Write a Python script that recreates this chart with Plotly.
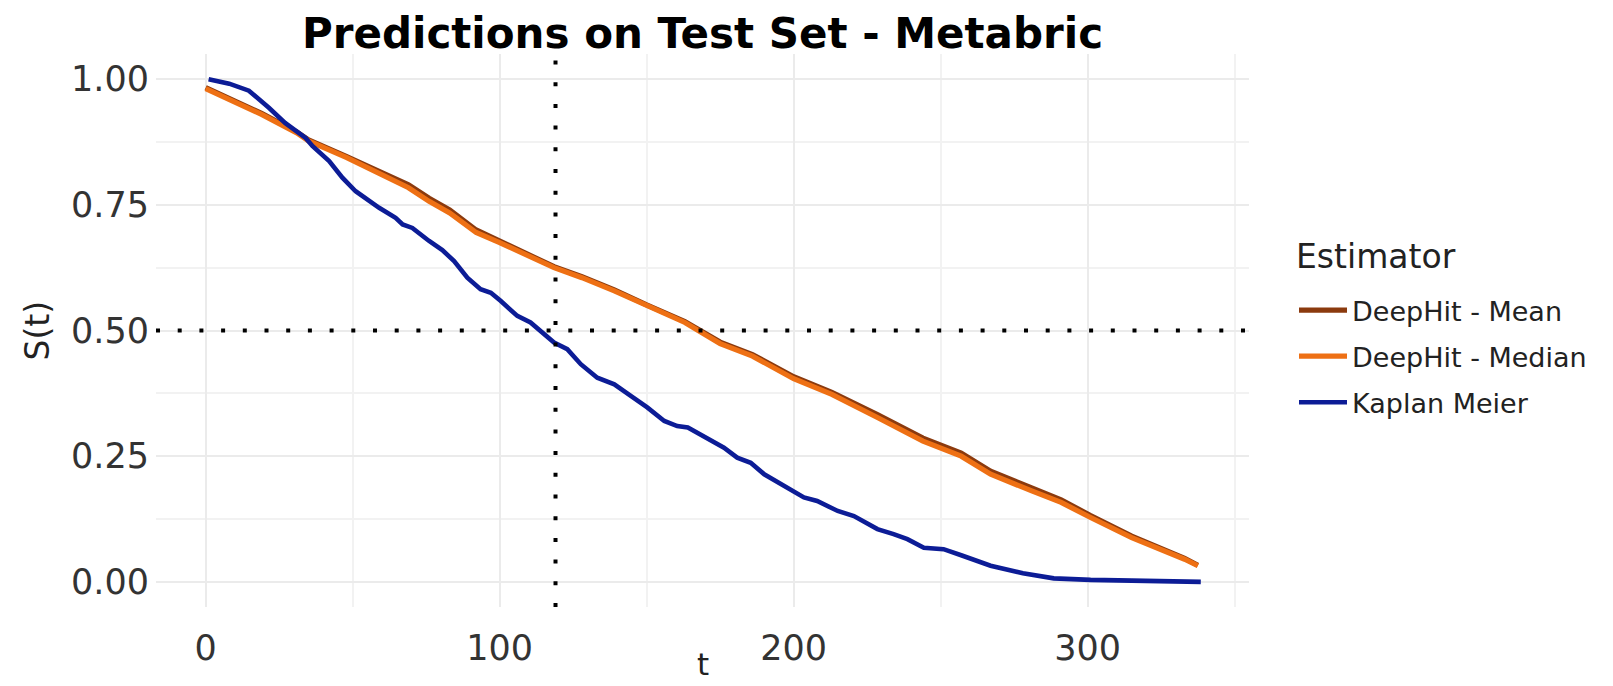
import plotly.graph_objects as go

# ---- data ----
dh_t = [0, 8, 19, 31, 35, 48, 59, 69, 76, 83, 92, 100, 118.5, 128, 139, 150, 163, 175, 186,
        200, 213, 228.5, 244, 257, 267, 281, 291, 301, 315, 333, 337.5]
dh_median = [0.981, 0.959, 0.930, 0.893, 0.877, 0.844, 0.814, 0.784, 0.757, 0.734, 0.695, 0.675,
             0.625, 0.605, 0.579, 0.549, 0.516, 0.474, 0.449, 0.404, 0.373, 0.327, 0.280, 0.250,
             0.214, 0.181, 0.158, 0.128, 0.088, 0.045, 0.032]
dh_mean = [0.983, 0.961, 0.932, 0.895, 0.879, 0.846, 0.817, 0.790, 0.763, 0.740, 0.700, 0.678,
           0.627, 0.607, 0.581, 0.551, 0.518, 0.477, 0.452, 0.408, 0.377, 0.333, 0.286, 0.256,
           0.220, 0.187, 0.163, 0.132, 0.091, 0.047, 0.033]

km_t = [1, 8, 14.7, 17, 21.5, 27, 34, 36.3, 42, 46.5, 51, 59, 64.6, 67, 70.3, 76, 80.5, 84.5, 89,
        93.5, 97, 100.3, 106, 110.5, 114, 118.5, 123, 127.6, 133.2, 139, 144.6, 150.2, 156, 160.4,
        164, 169.5, 176.3, 180.8, 185.4, 190, 196.7, 203.5, 208, 215, 220.5, 228.5, 234, 238.7,
        244.3, 251, 257, 262, 267, 278, 288.5, 301, 338.5]
km_s = [1.0, 0.991, 0.977, 0.966, 0.943, 0.913, 0.883, 0.867, 0.837, 0.804, 0.777, 0.744, 0.724,
        0.711, 0.704, 0.678, 0.660, 0.638, 0.605, 0.582, 0.575, 0.559, 0.529, 0.516, 0.499, 0.476,
        0.463, 0.433, 0.406, 0.393, 0.370, 0.347, 0.320, 0.310, 0.307, 0.290, 0.267, 0.247, 0.237,
        0.214, 0.191, 0.168, 0.161, 0.141, 0.131, 0.105, 0.095, 0.085, 0.068, 0.065, 0.053, 0.042,
        0.032, 0.017, 0.007, 0.004, 0.0]

series_names = ["DeepHit - Mean", "DeepHit - Median", "Kaplan Meier"]
x_ticks = [0, 100, 200, 300]
y_ticks = [0.0, 0.25, 0.5, 0.75, 1.0]
y_tick_labels = ["0.00", "0.25", "0.50", "0.75", "1.00"]
vline_t = 119
hline_s = 0.5

FONT = "DejaVu Sans"
colors = ["#8B3A0E", "#EE7014", "#0C1C96"]

W, H = 1613, 686
L, R, T, B = 148, 372, 46, 87
PW, PH = W - L - R, H - T - B


def px_x(p):
    return (p - L) / PW


def px_y(p):
    return (T + PH - p) / PH


fig = go.Figure()
fig.add_trace(go.Scatter(x=dh_t, y=dh_mean, mode="lines", name=series_names[0],
                         line=dict(color=colors[0], width=5.2), legendgroup="a"))
fig.add_trace(go.Scatter(x=dh_t, y=dh_median, mode="lines", name=series_names[1],
                         line=dict(color=colors[1], width=5.2), legendgroup="b"))
fig.add_trace(go.Scatter(x=km_t, y=km_s, mode="lines", name=series_names[2],
                         line=dict(color=colors[2], width=4.6), legendgroup="c"))

dot = dict(color="black", width=4, dash="4px,17.7px")
fig.add_hline(y=hline_s, line=dot, layer="above")
fig.add_vline(x=vline_t, line=dot, layer="above")

fig.update_layout(
    width=W, height=H,
    margin=dict(l=L, r=R, t=T, b=B, autoexpand=False),
    plot_bgcolor="white", paper_bgcolor="white",
    font=dict(family=FONT, color="#222222"),
    title=dict(text="<b>Predictions on Test Set - Metabric</b>", x=0.5, xref="paper",
               y=1 - 25 / H, yref="container", xanchor="center", yanchor="middle",
               font=dict(size=42, color="black", family=FONT)),
    legend=dict(x=px_x(1286), xanchor="left", y=px_y(278), yanchor="top",
                font=dict(size=27, color="#222222"), tracegroupgap=8, itemwidth=48,
                bgcolor="rgba(0,0,0,0)"),
    showlegend=True,
    annotations=[
        dict(text="Estimator", xref="paper", yref="paper", x=px_x(1286), y=px_y(249),
             xanchor="left", yanchor="middle", showarrow=False,
             font=dict(size=33, color="#222222", family=FONT)),
        dict(text="t", xref="paper", yref="paper", x=0.5, y=px_y(656),
             xanchor="center", yanchor="middle", showarrow=False,
             font=dict(size=31, color="#222222", family=FONT)),
        dict(text="S(t)", xref="paper", yref="paper", x=px_x(29), y=0.5,
             xanchor="center", yanchor="middle", showarrow=False, textangle=-90,
             font=dict(size=33, color="#222222", family=FONT)),
    ],
)
fig.update_xaxes(range=[-16.9, 354.9], tickvals=x_ticks, ticks="", showline=False,
                 zeroline=False, showgrid=True, gridcolor="#EBEBEB", gridwidth=2,
                 minor=dict(dtick=50, tick0=0, showgrid=True, gridcolor="#F2F2F2", gridwidth=1.5),
                 tickfont=dict(size=35, color="#333333"), ticklabelstandoff=17, automargin=False)
fig.update_yaxes(range=[-0.05, 1.05], tickvals=y_ticks, ticktext=y_tick_labels, ticks="",
                 showline=False, zeroline=False, showgrid=True, gridcolor="#EBEBEB", gridwidth=2,
                 minor=dict(dtick=0.125, tick0=0, showgrid=True, gridcolor="#F2F2F2", gridwidth=1.5),
                 tickfont=dict(size=35, color="#333333"), ticklabelstandoff=6, automargin=False)

fig.write_html("out.html")
